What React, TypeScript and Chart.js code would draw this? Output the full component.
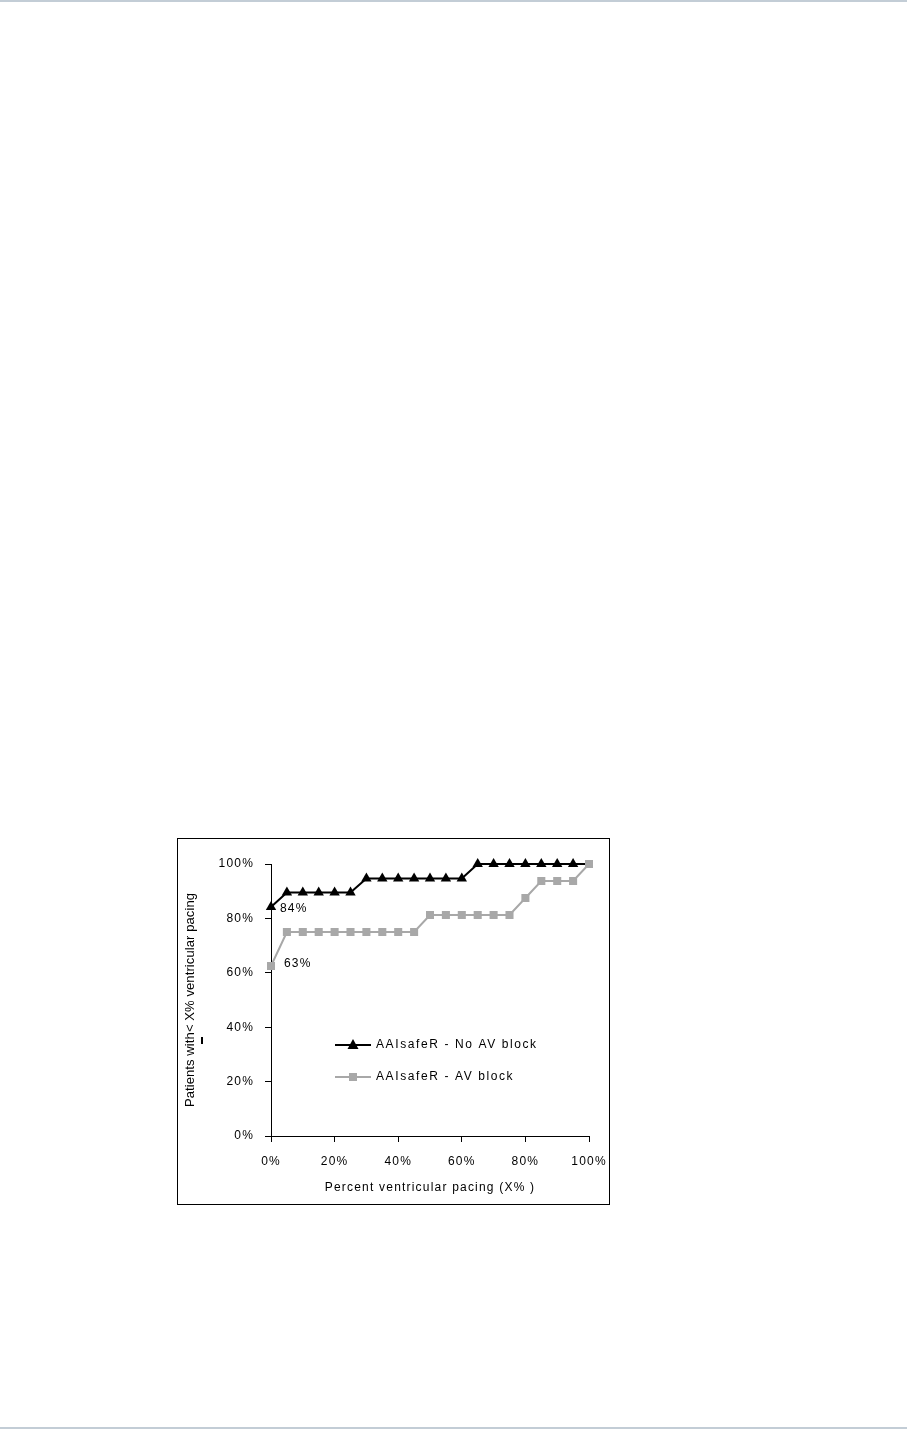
import React, { useEffect, useRef } from "react";
import { Chart, registerables } from "chart.js";

Chart.register(...registerables);

const xValues = [0, 5, 10, 15, 20, 25, 30, 35, 40, 45, 50, 55, 60, 65, 70, 75, 80, 85, 90, 95, 100];
const noBlock = [84.2, 89.5, 89.5, 89.5, 89.5, 89.5, 94.7, 94.7, 94.7, 94.7, 94.7, 94.7, 94.7, 100, 100, 100, 100, 100, 100, 100, 100];
const avBlock = [62.5, 75, 75, 75, 75, 75, 75, 75, 75, 75, 81.25, 81.25, 81.25, 81.25, 81.25, 81.25, 87.5, 93.75, 93.75, 93.75, 100];
const seriesNames = ["AAIsafeR - No AV block", "AAIsafeR - AV block"];
const startLabels = ["84%", "63%"];
const xTitle = "Percent ventricular pacing (X% )";
const yTitle = "Patients with< X% ventricular pacing";

const BLACK = "#000000";
const GRAY = "#a8a8a8";
const FONT = "'Liberation Sans', Arial, sans-serif";

const textPlugin = {
  id: "extraText",
  beforeDraw(chart: any) {
    chart.ctx.letterSpacing = "1.2px";
    const ys = chart.scales.y;
    if (ys && !ys.__patched) {
      const orig = ys.drawTitle;
      ys.drawTitle = function (...args: any[]) {
        const c = this.ctx;
        const prev = c.letterSpacing;
        c.letterSpacing = "0.1px";
        orig.apply(this, args);
        c.letterSpacing = prev;
      };
      ys.__patched = true;
    }
  },
  afterDatasetsDraw(chart: any) {
    const ctx = chart.ctx;
    const xs = chart.scales.x;
    const ys = chart.scales.y;
    ctx.save();
    ctx.letterSpacing = "1.2px";
    ctx.font = `12px ${FONT}`;
    ctx.fillStyle = "#000";
    ctx.textBaseline = "middle";
    ctx.textAlign = "left";
    // start value labels
    ctx.fillText(startLabels[0], xs.getPixelForValue(xValues[0]) + 9, ys.getPixelForValue(noBlock[0]) + 2);
    ctx.fillText(startLabels[1], xs.getPixelForValue(xValues[0]) + 13, ys.getPixelForValue(avBlock[0]) - 2);
    // legend
    ctx.letterSpacing = "1.6px";
    const lx0 = chart.chartArea.left + 64;
    const lx1 = lx0 + 36;
    const rows = [
      { y: chart.chartArea.top + 181, color: BLACK, style: "triangle" },
      { y: chart.chartArea.top + 213, color: GRAY, style: "rect" },
    ];
    rows.forEach((r, i) => {
      ctx.strokeStyle = r.color;
      ctx.fillStyle = r.color;
      ctx.lineWidth = 2;
      ctx.beginPath();
      ctx.moveTo(lx0, r.y);
      ctx.lineTo(lx1, r.y);
      ctx.stroke();
      const cx = (lx0 + lx1) / 2;
      ctx.beginPath();
      if (r.style === "triangle") {
        ctx.moveTo(cx, r.y - 6);
        ctx.lineTo(cx + 5.5, r.y + 4);
        ctx.lineTo(cx - 5.5, r.y + 4);
        ctx.closePath();
        ctx.fill();
      } else {
        ctx.fillRect(cx - 4, r.y - 4, 8, 8);
      }
      ctx.fillStyle = "#000";
      ctx.fillText(seriesNames[i], lx1 + 5, r.y);
    });
    ctx.restore();
  },
};

export default function App() {
  const ref = useRef<HTMLCanvasElement>(null);
  useEffect(() => {
    const chart = new Chart(ref.current!, {
      type: "line",
      data: {
        labels: xValues,
        datasets: [
          {
            label: seriesNames[0],
            data: xValues.map((x, i) => ({ x, y: noBlock[i] })),
            borderColor: BLACK,
            backgroundColor: BLACK,
            borderWidth: 2,
            pointStyle: "triangle",
            pointRadius: (c: any) => (c.dataIndex === xValues.length - 1 ? 0 : 6),
            pointBorderWidth: 0,
            clip: false,
            order: 2,
          },
          {
            label: seriesNames[1],
            data: xValues.map((x, i) => ({ x, y: avBlock[i] })),
            borderColor: GRAY,
            backgroundColor: GRAY,
            borderWidth: 2,
            pointStyle: "rect",
            pointRadius: 5.7,
            pointBorderWidth: 0,
            clip: false,
            order: 1,
          },
        ],
      },
      options: {
        animation: false,
        responsive: false,
        maintainAspectRatio: false,
        layout: { padding: { top: 25, right: 20, left: 0, bottom: 0 } },
        plugins: { legend: { display: false }, tooltip: { enabled: false } },
        scales: {
          x: {
            type: "linear",
            min: 0,
            max: 100,
            afterFit: (s: any) => {
              s.height = 68;
              s.paddingLeft = 0;
              s.paddingRight = 0;
            },
            border: { color: "#000", width: 1 },
            grid: { drawOnChartArea: false, tickLength: 6, color: "#000" },
            ticks: {
              stepSize: 20,
              color: "#000",
              padding: 12,
              maxRotation: 0,
              font: { family: FONT, size: 12 },
              callback: (v: any) => v + "%",
            },
            title: {
              display: true,
              text: xTitle,
              color: "#000",
              font: { family: FONT, size: 12 },
              padding: { top: 0, bottom: 9 },
            },
          },
          y: {
            type: "linear",
            min: 0,
            max: 100,
            afterFit: (s: any) => {
              s.width = 93;
              s.paddingTop = 0;
              s.paddingBottom = 0;
            },
            border: { color: "#000", width: 1 },
            grid: { drawOnChartArea: false, tickLength: 6, color: "#000" },
            ticks: {
              stepSize: 20,
              color: "#000",
              padding: 11,
              font: { family: FONT, size: 12 },
              callback: (v: any) => v + "%",
            },
            title: {
              display: true,
              text: yTitle,
              color: "#000",
              font: { family: FONT, size: 13 },
              padding: { top: 5, bottom: 0 },
            },
          },
        },
      },
      plugins: [textPlugin],
    } as any);
    return () => chart.destroy();
  }, []);

  return (
    <div>
      <div style={{ position: "absolute", left: 0, top: 0, width: 907, height: 2, background: "#c3cdd6" }} />
      <div style={{ position: "absolute", left: 0, top: 1427, width: 907, height: 2, background: "#c3cdd6" }} />
      <div
        style={{
          position: "absolute",
          left: 177,
          top: 838,
          width: 431,
          height: 365,
          border: "1px solid #000",
        }}
      >
        <canvas ref={ref} width={431} height={365} style={{ display: "block", width: 431, height: 365 }} />
      </div>
      <div style={{ position: "absolute", left: 201, top: 1037, width: 2, height: 7, background: "#000" }} />
    </div>
  );
}
